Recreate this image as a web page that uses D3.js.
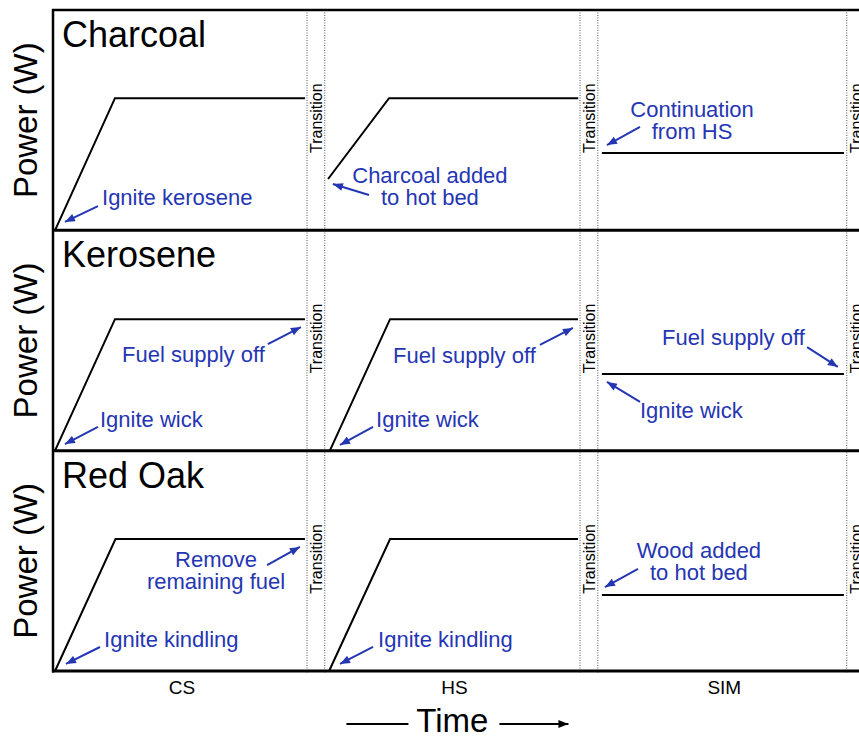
<!DOCTYPE html>
<html>
<head>
<meta charset="utf-8">
<script src="https://cdnjs.cloudflare.com/ajax/libs/d3/7.8.5/d3.min.js"></script>
<style>
	body { margin: 0; background: #fff; }
	text { font-family: "Liberation Sans", Arial, sans-serif; }
</style>
</head>
<body>
<script>
const w = 859
const h = 740
const blue = "#2536b3"

// panels (fuels) and test phases, time in arbitrary units
const fuels = ["Charcoal", "Kerosene", "Red Oak"]
const phases = ["CS", "HS", "SIM"]
const phaseStart = [0, 107, 214.5]
const phaseEnd = [100, 207.5, 312.5]
const transitionWidth = 7

// power curves, [time, relative power]
const charcoalCurves = [
	[[0.8, 0], [24.4, 0.6], [99.2, 0.6]],
	[[108.3, 0.233], [132.3, 0.6], [206.8, 0.6]],
	[[216.1, 0.351], [311.4, 0.351]]
]
const keroseneCurves = [
	[[0.8, 0], [24.4, 0.597], [99.2, 0.597]],
	[[109, 0], [132.7, 0.597], [206.7, 0.597]],
	[[216.1, 0.348], [311.4, 0.348]]
]
const redOakCurves = [
	[[0.8, 0], [24.6, 0.599], [99.2, 0.599]],
	[[108.7, 0], [132.7, 0.599], [206.7, 0.599]],
	[[216.1, 0.345], [311.4, 0.345]]
]

// annotations: text lines, text position [t, p], arrow from -> to
const charcoalNotes = [
	{ lines: ["Ignite kerosene"], anchor: "start", at: [19.3, 0.115], from: [17.7, 0.11], to: [4.7, 0.038] },
	{ lines: ["Charcoal added", "to hot bed"], anchor: "middle", at: [148.4, 0.215], from: [124.4, 0.16], to: [110.2, 0.21] },
	{ lines: ["Continuation", "from HS"], anchor: "middle", at: [251.6, 0.514], from: [231.1, 0.469], to: [218.1, 0.387] }
]
const keroseneNotes = [
	{ lines: ["Fuel supply off"], anchor: "start", at: [27.2, 0.403], from: [84.6, 0.484], to: [97.6, 0.561] },
	{ lines: ["Ignite wick"], anchor: "start", at: [18.5, 0.108], from: [17.7, 0.108], to: [4.7, 0.03] },
	{ lines: ["Fuel supply off"], anchor: "start", at: [133.9, 0.398], from: [191.7, 0.48], to: [204.7, 0.557] },
	{ lines: ["Ignite wick"], anchor: "start", at: [127.2, 0.108], from: [126, 0.108], to: [113, 0.026] },
	{ lines: ["Fuel supply off"], anchor: "start", at: [239.8, 0.48], from: [296.9, 0.47], to: [309, 0.38] },
	{ lines: ["Ignite wick"], anchor: "start", at: [231.1, 0.148], from: [231.1, 0.221], to: [218.1, 0.312] }
]
const redOakNotes = [
	{ lines: ["Ignite kindling"], anchor: "start", at: [20.1, 0.109], from: [18.5, 0.109], to: [5.1, 0.032] },
	{ lines: ["Remove", "remaining fuel"], anchor: "middle", at: [64.2, 0.472], from: [84.3, 0.481], to: [97.2, 0.563] },
	{ lines: ["Ignite kindling"], anchor: "start", at: [128, 0.109], from: [126, 0.109], to: [113, 0.032] },
	{ lines: ["Wood added", "to hot bed"], anchor: "middle", at: [254.3, 0.513], from: [230.3, 0.463], to: [217.3, 0.381] }
]

const curves = [charcoalCurves, keroseneCurves, redOakCurves]
const notes = [charcoalNotes, keroseneNotes, redOakNotes]

const svg = d3.select("body")
	.append("svg")
	.attr("width", w)
	.attr("height", h)

let defs = svg.append("defs")
let addMarker = (id, color) => defs.append("marker")
	.attr("id", id)
	.attr("markerUnits", "userSpaceOnUse")
	.attr("viewBox", "0 0 10 8")
	.attr("refX", 10)
	.attr("refY", 4)
	.attr("markerWidth", 11)
	.attr("markerHeight", 8)
	.attr("orient", "auto")
	.append("path")
	.attr("d", "M0,0 L10,4 L0,8 Z")
	.attr("fill", color)
addMarker("headBlue", blue)
addMarker("headBlack", "#000")

const x = d3.scaleLinear()
	.domain([0, 100])
	.range([53, 307])

const panel = d3.scaleBand()
	.domain(fuels)
	.range([10, 671])

let yFor = f => d3.scaleLinear()
	.domain([0, 1])
	.range([panel(f) + panel.bandwidth(), panel(f)])

// transition bands (dotted lines)
let edges = []
phaseEnd.forEach(e => { edges.push(e); edges.push(e + transitionWidth) })
svg.selectAll(".edge")
	.data(edges)
	.enter()
	.append("line")
	.attr("x1", d => x(d))
	.attr("x2", d => x(d))
	.attr("y1", panel.range()[0])
	.attr("y2", panel.range()[1] + 2)
	.attr("stroke", "#555")
	.attr("stroke-width", 1)
	.attr("stroke-dasharray", "1,1.5")

fuels.forEach((f, i) => {
	let y = yFor(f)
	let g = svg.append("g")
	let line = d3.line()
		.x(d => x(d[0]))
		.y(d => y(d[1]))

	g.selectAll(".curve")
		.data(curves[i])
		.enter()
		.append("path")
		.attr("d", line)
		.attr("fill", "none")
		.attr("stroke", "#000")
		.attr("stroke-width", 2)

	// panel title
	g.append("text")
		.attr("x", x(0) + 9)
		.attr("y", panel(f) + 37)
		.attr("font-size", 36)
		.text(f)

	// y label
	g.append("text")
		.attr("transform", "translate(37," + (panel(f) + panel.bandwidth() / 2) + ") rotate(-90)")
		.attr("text-anchor", "middle")
		.attr("font-size", 33)
		.text("Power (W)")

	// transition labels
	g.selectAll(".trans")
		.data(phaseEnd)
		.enter()
		.append("text")
		.attr("transform", d => "translate(" + (x(d + transitionWidth / 2) + 6) + "," + (panel(f) + 143) + ") rotate(-90)")
		.attr("font-size", 16)
		.text("Transition")

	// annotations
	notes[i].forEach(n => {
		let t = g.append("text")
			.attr("x", x(n.at[0]))
			.attr("y", y(n.at[1]))
			.attr("text-anchor", n.anchor)
			.attr("font-size", 22)
			.attr("fill", blue)
		n.lines.forEach((l, k) => t.append("tspan")
			.attr("x", x(n.at[0]))
			.attr("dy", k == 0 ? 0 : 22)
			.text(l))
		g.append("line")
			.attr("x1", x(n.from[0]))
			.attr("y1", y(n.from[1]))
			.attr("x2", x(n.to[0]))
			.attr("y2", y(n.to[1]))
			.attr("stroke", blue)
			.attr("stroke-width", 2)
			.attr("marker-end", "url(#headBlue)")
	})
})

// frame
svg.append("line")
	.attr("x1", x(0) - 1)
	.attr("x2", w)
	.attr("y1", panel.range()[0])
	.attr("y2", panel.range()[0])
	.attr("stroke", "#000")
	.attr("stroke-width", 2.5)

svg.selectAll(".sep")
	.data(fuels)
	.enter()
	.append("line")
	.attr("x1", x(0) - 1)
	.attr("x2", w)
	.attr("y1", d => panel(d) + panel.bandwidth())
	.attr("y2", d => panel(d) + panel.bandwidth())
	.attr("stroke", "#000")
	.attr("stroke-width", 3)

svg.append("line")
	.attr("x1", x(0))
	.attr("x2", x(0))
	.attr("y1", panel.range()[0] - 1)
	.attr("y2", panel.range()[1] + 1.5)
	.attr("stroke", "#000")
	.attr("stroke-width", 2.5)

// phase labels
svg.selectAll(".phase")
	.data(phases)
	.enter()
	.append("text")
	.attr("x", (d, i) => x((phaseStart[i] + phaseEnd[i]) / 2) + 2)
	.attr("y", 694)
	.attr("text-anchor", "middle")
	.attr("font-size", 19)
	.text(d => d)

// time axis title with arrows
let tx = x((phaseStart[1] + phaseEnd[1]) / 2)
svg.append("text")
	.attr("x", tx)
	.attr("y", 732)
	.attr("text-anchor", "middle")
	.attr("font-size", 33)
	.text("Time")

svg.append("line")
	.attr("x1", tx - 106)
	.attr("x2", tx - 44)
	.attr("y1", 724)
	.attr("y2", 724)
	.attr("stroke", "#000")
	.attr("stroke-width", 2)

svg.append("line")
	.attr("x1", tx + 47)
	.attr("x2", tx + 116)
	.attr("y1", 724)
	.attr("y2", 724)
	.attr("stroke", "#000")
	.attr("stroke-width", 2)
	.attr("marker-end", "url(#headBlack)")
</script>
</body>
</html>
